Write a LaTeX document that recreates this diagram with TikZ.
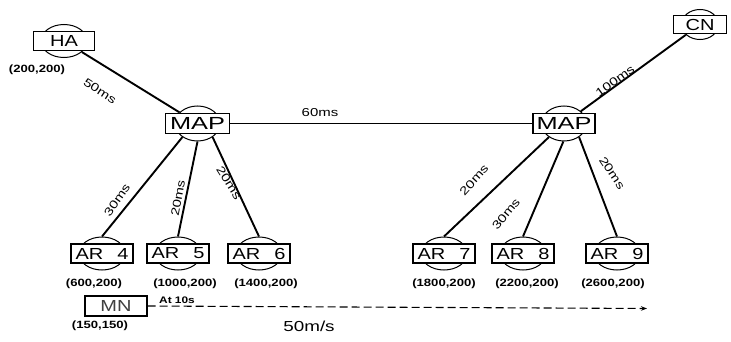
\documentclass[tikz,border=0pt]{standalone}
\usepackage{fontspec}
\usetikzlibrary{shapes.geometric,arrows.meta}
\newfontfamily\boxfont[FakeStretch=1.25,WordSpace=2.5]{Liberation Sans}
\newfontfamily\mapfont[FakeStretch=1.45]{Liberation Sans}
\newfontfamily\labfont[FakeStretch=1.3]{Liberation Sans}
\newfontfamily\coordfont[FakeStretch=1.25]{Liberation Sans Bold}

\begin{document}
\begin{tikzpicture}[x=1pt,y=1pt,
  router/.style={draw, ellipse, fill=white, minimum width=46pt, minimum height=33pt, inner sep=0pt, line width=1pt},
  nbox/.style={draw, fill=white, minimum width=62pt, minimum height=19pt, inner sep=0pt, line width=1.4pt,
               font=\boxfont\fontsize{16}{16}\selectfont},
  link/.style={line width=1.9pt},
  lat/.style={font=\labfont\fontsize{11.5}{12}\selectfont, inner sep=1pt},
  where/.style={font=\coordfont\fontsize{10.5}{11}\selectfont, inner sep=1pt}]
\useasboundingbox (0,0) rectangle (731,341);

% routers: an ellipse behind a labelled box
\node[router] (hae) at (64,300) {};
\node[nbox, minimum width=61pt] (ha) at (hae) {HA};
\node[router, minimum width=37pt, minimum height=30pt] (cne) at (700,316.5) {};
\node[nbox, minimum width=53pt, minimum height=18pt] (cn) at (cne) {CN};
\node[router, minimum width=45pt, minimum height=35pt] (mapLe) at (197.5,217.5) {};
\node[nbox, minimum width=64pt, minimum height=20pt, font=\mapfont\fontsize{17.5}{17.5}\selectfont] (mapL) at (mapLe) {MAP};
\node[router, minimum width=45pt, minimum height=35pt] (mapRe) at (564,217.5) {};
\node[nbox, minimum width=62pt, minimum height=20pt, font=\mapfont\fontsize{17.5}{17.5}\selectfont] (mapR) at (mapRe) {MAP};

\foreach \n/\x in {4/102,5/178,6/259,7/444,8/523,9/617}{
  \node[router] (ar\n e) at (\x,87.5) {};
  \node[nbox] (ar\n) at (ar\n e) {AR \n};
}

% mobile node
\node[nbox, minimum height=20pt] (mn) at (116,35) {\color{black!75}MN};

% wired links
\draw[link] (hae) -- (mapLe);
\draw[link] (mapL.east) -- (mapR.west);
\draw[link] (mapRe) -- (cne);
\draw[link] (mapLe.-138) -- (ar4e.north);
\draw[link] (mapLe.-90)  -- (ar5e.north);
\draw[link] (mapLe.-42)  -- (ar6e.north);
\draw[link] (mapRe.-138) -- (ar7e.north);
\draw[link] (mapRe.-92)  -- (ar8e.north);
\draw[link] (mapRe.-42)  -- (ar9e.north);

% link delays
\node[lat, rotate=-33] (d1) at (100,250) {50ms};
\node[lat] (d2) at (320,228) {60ms};
\node[lat, rotate=36] (d3) at (615,260) {100ms};
\node[lat, rotate=55] (d4) at (117,141) {30ms};
\node[lat, rotate=80] (d5) at (178,143) {20ms};
\node[lat, rotate=-58] (d6) at (229,158) {20ms};
\node[lat, rotate=48] (d7) at (474,161) {20ms};
\node[lat, rotate=50] (d8) at (506,127) {30ms};
\node[lat, rotate=-56] (d9) at (612,168) {20ms};

% positions
\node[where] (p1) at (37,271) {(200,200)};
\node[where] (p4) at (94,57) {(600,200)};
\node[where] (p5) at (185,57) {(1000,200)};
\node[where] (p6) at (266,57) {(1400,200)};
\node[where] (p7) at (444,57) {(1800,200)};
\node[where] (p8) at (527,57) {(2200,200)};
\node[where] (p9) at (613,57) {(2600,200)};
\node[where] (p0) at (100,15) {(150,150)};

% movement of the mobile node
\coordinate (goal) at (647,32.5);
\draw[line width=1.1pt, dash pattern=on 8pt off 4pt, -{Stealth[length=6pt,width=4.5pt]}] (mn.east) -- (goal);
\node[font=\coordfont\fontsize{9.5}{10}\selectfont, inner sep=1pt] (t10) at (177,41) {At 10s};
\node[font=\labfont\fontsize{14.5}{15}\selectfont, inner sep=1pt] (spd) at (309,15) {50m/s};
\end{tikzpicture}
\end{document}
